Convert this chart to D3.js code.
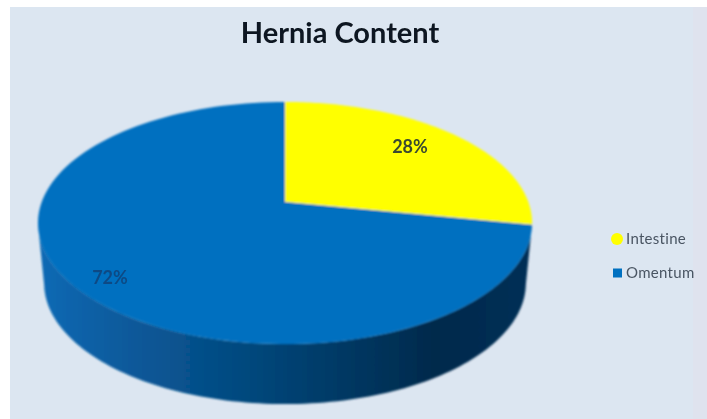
<!DOCTYPE html>
<html><head><meta charset="utf-8">
<script src="https://cdnjs.cloudflare.com/ajax/libs/d3/7.8.5/d3.min.js"></script>
<style>html,body{margin:0;padding:0;background:#fff}svg{display:block}</style></head>
<body><svg id="c" width="707" height="419"></svg>
<script>
const categories = ["Intestine", "Omentum"];
const values = [28, 72];
const colors = ["#ffff00", "#0070c0"];
const title = "Hernia Content";

const svg = d3.select("#c");
const font = "Lato, 'Open Sans', sans-serif";
const defs = svg.append("defs");
defs.append("filter").attr("id","soft").attr("x","-5%").attr("y","-5%").attr("width","110%").attr("height","110%")
  .append("feGaussianBlur").attr("stdDeviation",0.8);
defs.append("filter").attr("id","softer").attr("filterUnits","userSpaceOnUse").attr("x",0).attr("y",0).attr("width",707).attr("height",419)
  .append("feGaussianBlur").attr("stdDeviation",0.75);
const g = defs.append("linearGradient").attr("id","side").attr("gradientUnits","userSpaceOnUse")
  .attr("x1",38).attr("x2",532).attr("y1",0).attr("y2",0);
[[0,"#0a6ab5"],[0.15,"#085c9f"],[0.4,"#064a80"],[0.6,"#043a66"],[0.8,"#012a4c"],[1,"#032f56"]]
  .forEach(([o,c])=>g.append("stop").attr("offset",o).attr("stop-color",c));

svg.append("rect").attr("x",10).attr("y",7).attr("width",697).attr("height",412).attr("fill","#dce6f1");
svg.append("rect").attr("x",693).attr("y",7).attr("width",14).attr("height",412).attr("fill","#dfe3ee");

// perspective projection of the pie disc
const cx=285, cy=202, a=243.3, b=117.4, k=0.1736, depth=60;
const project=(ang,r=1,dz=0)=>{
  const u=Math.sin(ang)*r, v=Math.cos(ang)*r, w=1+k*v, s=dz?0.975:1;
  return [cx+a*s*u/w, cy-b*v/w+dz];
};
const pie=d3.pie().value(d=>d).sort(null)(values);
const line=d3.line();
const arcPts=(a0,a1,dz=0)=>d3.range(0,121).map(i=>project(a0+(a1-a0)*i/120,1,dz));

const chart=svg.append("g").attr("filter","url(#soft)");
// side wall: front half of the rim, from right-most to left-most
const start=Math.PI*0.56, end=Math.PI*1.44;
const wall=[...arcPts(start,end,0),...arcPts(end,start,depth)];
chart.append("path").attr("d",line(wall)+"Z").attr("fill","url(#side)");
// top faces
chart.selectAll("path.slice").data(pie).join("path").attr("class","slice")
  .attr("d",d=>line([[cx,cy],...arcPts(d.startAngle,d.endAngle)])+"Z")
  .attr("fill",(d,i)=>colors[i]);

const lab=svg.append("g").attr("filter","url(#softer)").attr("font-family",font);
lab.append("text").attr("x",340).attr("y",43).attr("text-anchor","middle")
  .attr("font-size",29).attr("font-weight",700).attr("fill","#101820").text(title);
const labelPos=[[410,147],[110,278]];
const labelFill=["#3a4a30","#0c4a85"];
lab.selectAll("text.v").data(values).join("text").attr("class","v")
  .attr("x",(d,i)=>labelPos[i][0]).attr("y",(d,i)=>labelPos[i][1]).attr("dy","0.35em")
  .attr("text-anchor","middle").attr("font-size",18).attr("font-weight",700).attr("fill",(d,i)=>labelFill[i]).text(d=>d+"%");

const legY=d3.scalePoint().domain(categories).range([239,273]);
lab.selectAll("text.l").data(categories).join("text").attr("class","l")
  .attr("x",626).attr("y",d=>legY(d)).attr("dy","0.35em")
  .attr("font-size",15).attr("letter-spacing",0.3).attr("fill","#4a5563").text(d=>d);
lab.append("circle").attr("cx",617).attr("cy",legY(categories[0])).attr("r",6).attr("fill",colors[0]);
lab.append("rect").attr("x",613).attr("y",legY(categories[1])-4.5).attr("width",9).attr("height",9).attr("fill",colors[1]);
</script></body></html>
